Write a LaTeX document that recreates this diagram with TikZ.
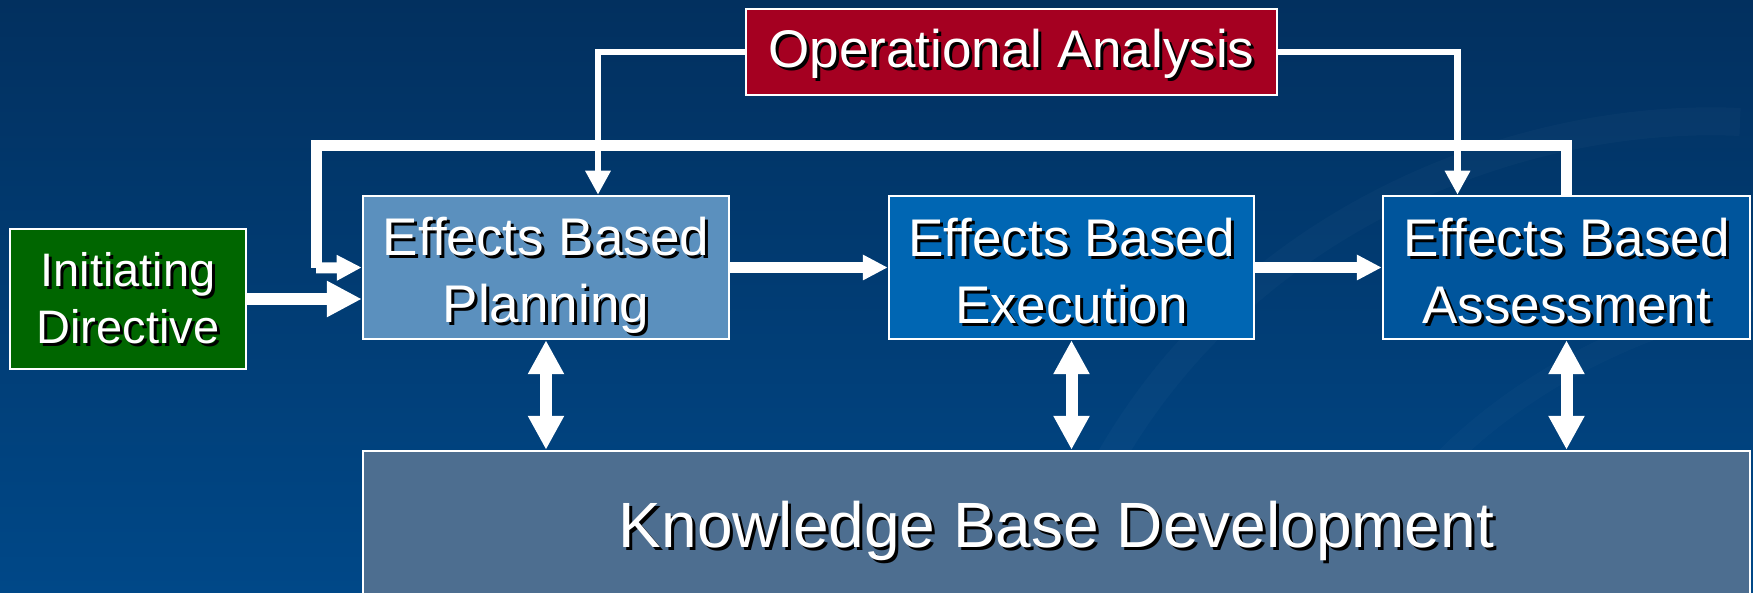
\documentclass[tikz,border=0pt]{standalone}
\usepackage{fontspec}
\setmainfont{Liberation Sans}
\usetikzlibrary{arrows.meta}
\definecolor{bgtop}{HTML}{02305F}
\definecolor{bgbot}{HTML}{004888}
\definecolor{oared}{HTML}{A50021}
\definecolor{idgreen}{HTML}{006600}
\definecolor{planblue}{HTML}{5B90BE}
\definecolor{execblue}{HTML}{0066B3}
\definecolor{assblue}{HTML}{00559C}
\definecolor{kbgrey}{HTML}{4D6E90}
\newcommand\shtext[2][0pt]{\raisebox{-#1}[\height][\depth]{\vphantom{Apg}\makebox[0pt][l]{\hspace{3pt}\raisebox{-3pt}{\color{black}#2}}#2}}
\begin{document}
\begin{tikzpicture}[x=1pt,y=-1pt,
  box/.style={draw=white, line width=2.5pt, text=white, align=center, inner sep=0pt, font=\fontsize{53}{67}\selectfont},
  thinarrow/.style={draw=white, line width=6.5pt, -{Triangle[width=24pt,length=24pt]}},
  fbline/.style={draw=white, line width=11pt, line join=miter},
  midarrow/.style={draw=white, line width=11pt, -{Triangle[width=24pt,length=25pt]}},
  bigarrow/.style={draw=white, line width=12pt, -{Triangle[width=34pt,length=35pt]}},
  dblarrow/.style={draw=white, line width=12pt, {Triangle[width=34pt,length=34pt]}-{Triangle[width=34pt,length=34pt]}}
]
\useasboundingbox (0,0) rectangle (1753,593);
\fill[top color=bgtop, bottom color=bgbot] (0,0) rectangle (1753,593);
\begin{scope}
\clip (0,0) rectangle (1753,593);
\draw[white, opacity=0.025, line width=28pt] (1740,122) .. controls (1480,110) and (1150,260) .. (1050,600);
\draw[white, opacity=0.02, line width=22pt] (1753,300) .. controls (1600,330) and (1420,430) .. (1350,600);
\end{scope}

\node[box, fill=oared, minimum width=531pt, minimum height=86pt] (OA) at (1011.5,52) {\shtext[3pt]{Operational Analysis}};
\node[box, fill=idgreen, minimum width=236pt, minimum height=140pt, font=\fontsize{47}{57}\selectfont] (ID) at (128,299) {\shtext[4pt]{Initiating}\\\shtext[4pt]{Directive}};
\node[box, fill=planblue, minimum width=366pt, minimum height=143pt] (P) at (546,267.5) {\shtext[9pt]{Effects Based}\\\shtext[9pt]{Planning}};
\node[box, fill=execblue, minimum width=365pt, minimum height=143pt] (E) at (1071.5,267.5) {\shtext[9pt]{Effects Based}\\\shtext[9pt]{Execution}};
\node[box, fill=assblue, minimum width=367pt, minimum height=143pt] (A) at (1566.5,267.5) {\shtext[9pt]{Effects Based}\\\shtext[9pt]{Assessment}};
\node[box, fill=kbgrey, minimum width=1387pt, minimum height=148pt, font=\fontsize{64}{76}\selectfont] (K) at (1056.5,525) {\shtext[7pt]{Knowledge Base Development}};

\coordinate (fbL) at (316,146);
\path[fbline] (A.north) |- (fbL) -- (316,268);
\draw[midarrow] (316,268) -- (P.west);

\draw[thinarrow] (OA.west) -| ([xshift=52pt]P.north);
\draw[thinarrow] (OA.east) -| ([xshift=-109pt]A.north);

\draw[bigarrow] (ID.east) -- (ID.east -| P.west);
\draw[midarrow] (P.east) -- (E.west);
\draw[midarrow] (E.east) -- (A.west);

\draw[dblarrow] (P.south) -- (P.south |- K.north);
\draw[dblarrow] (E.south) -- (E.south |- K.north);
\draw[dblarrow] (A.south) -- (A.south |- K.north);
\end{tikzpicture}
\end{document}
